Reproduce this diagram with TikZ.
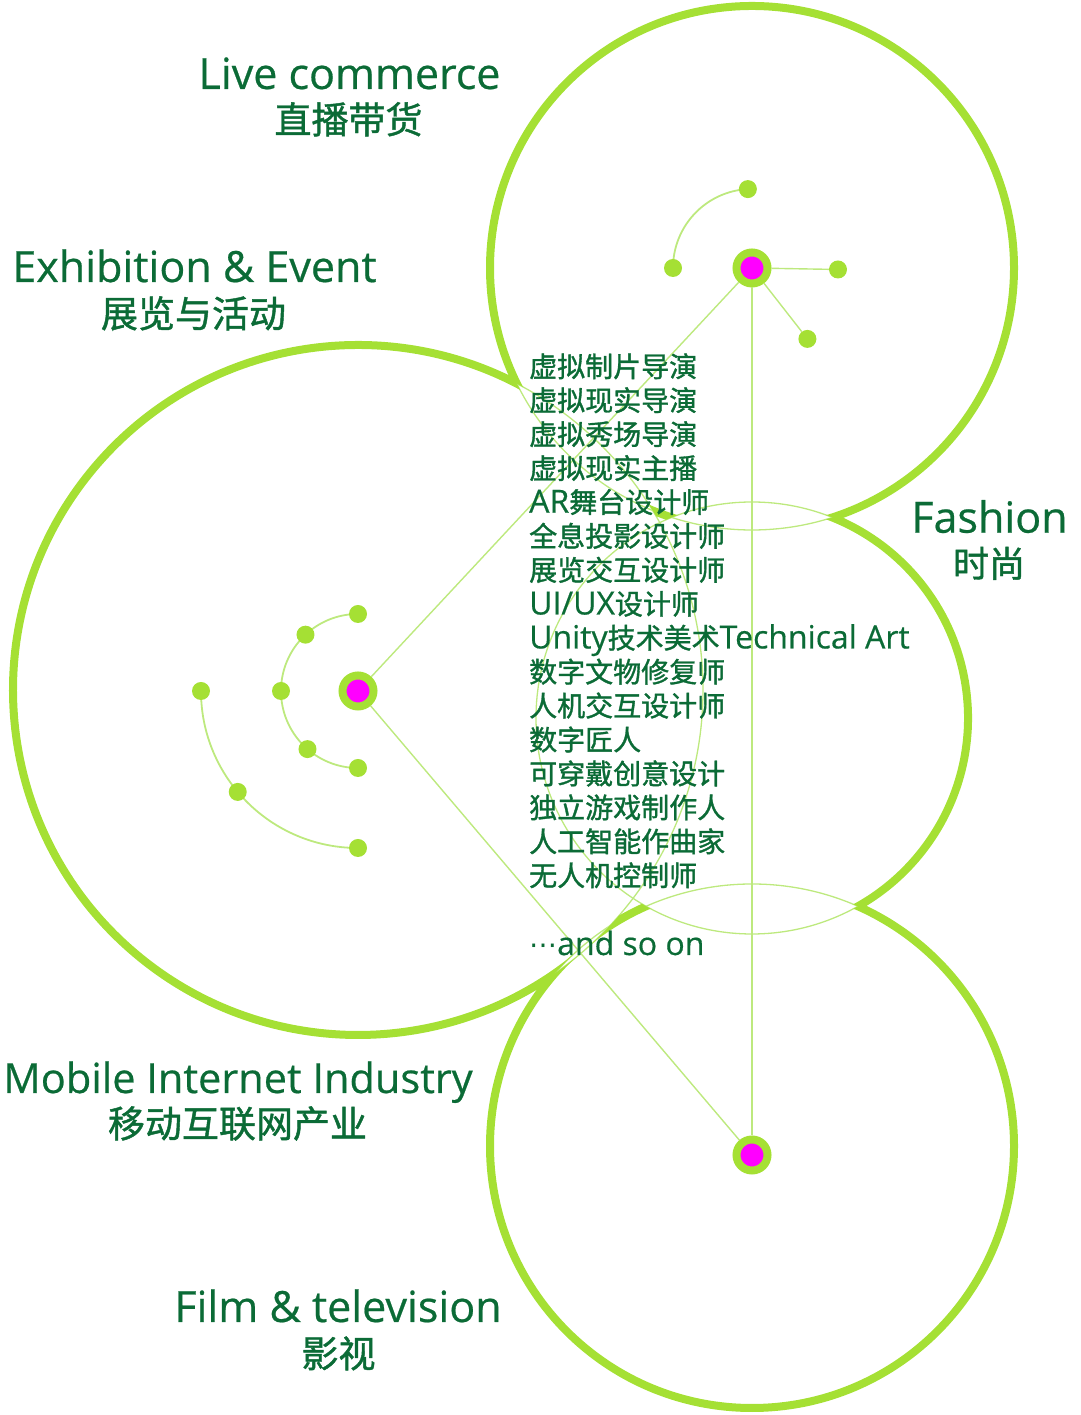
\documentclass[tikz,border=0pt]{standalone}
\usepackage{fontspec}
\setmainfont{Open Sans}[FakeBold=0.5]
\newfontfamily\cjk{Noto Sans CJK SC}[FakeBold=1.2]
\newfontfamily\dejavu{DejaVu Sans}
\usetikzlibrary{calc}
\definecolor{lg}{HTML}{A5E034}
\definecolor{lgthin}{HTML}{BDE97E}
\definecolor{dg}{HTML}{0B6B36}
\definecolor{mg}{HTML}{FF00FF}
\newcommand\zz[1]{{\fontsize{28}{34}\selectfont\cjk #1}}
\begin{document}
\begin{tikzpicture}[x=1pt,y=1pt,
 thinring/.style={draw=lgthin, line width=1.3pt},
 thickring/.style={draw=lg, line width=8pt},
 link/.style={draw=lgthin, line width=1.4pt},
 arcl/.style={draw=lgthin, line width=1.8pt},
 dot/.style={circle, fill=lg, minimum size=18pt, inner sep=0pt},
 hub/.style={circle, draw=lg, line width=8pt, fill=mg, minimum size=31pt, inner sep=0pt},
 title/.style={text=dg, font=\fontsize{43}{48}\selectfont, inner sep=0pt, anchor=base},
 ztitle/.style={text=dg, font=\fontsize{37}{44}\selectfont\cjk, inner sep=0pt, anchor=base},
 item/.style={text=dg, font=\fontsize{32}{34}\selectfont, inner sep=0pt, anchor=base west},
]
\useasboundingbox (0,0) rectangle (1080,1415);
\coordinate (cT) at (752,1147);
\coordinate (cM) at (752,697);
\coordinate (cL) at (358,725);
\coordinate (cB) at (752,269);
% thin full rings
\draw[thinring] (cT) circle[radius=262];
\draw[thinring] (cM) circle[radius=216];
\draw[thinring] (cL) circle[radius=345];
\draw[thinring] (cB) circle[radius=262];
% thick parts outside other circles (clockwise frame + counterclockwise circle = hole)
\begin{scope}
 \clip (-60,-60) -- (-60,1475) -- (1140,1475) -- (1140,-60) -- cycle (cM) circle[radius=216];
 \clip (-60,-60) -- (-60,1475) -- (1140,1475) -- (1140,-60) -- cycle (cL) circle[radius=345];
 \clip (-60,-60) -- (-60,1475) -- (1140,1475) -- (1140,-60) -- cycle (cB) circle[radius=262];
 \draw[thickring] (cT) circle[radius=262];
\end{scope}
\begin{scope}
 \clip (-60,-60) -- (-60,1475) -- (1140,1475) -- (1140,-60) -- cycle (cT) circle[radius=262];
 \clip (-60,-60) -- (-60,1475) -- (1140,1475) -- (1140,-60) -- cycle (cL) circle[radius=345];
 \clip (-60,-60) -- (-60,1475) -- (1140,1475) -- (1140,-60) -- cycle (cB) circle[radius=262];
 \coordinate (mStart) at ([shift={(-80:216)}]cM);
 \draw[thickring] (mStart) arc[start angle=-80, end angle=90, radius=216];
\end{scope}
\begin{scope}
 \clip (-60,-60) -- (-60,1475) -- (1140,1475) -- (1140,-60) -- cycle (cT) circle[radius=262];
 \clip (-60,-60) -- (-60,1475) -- (1140,1475) -- (1140,-60) -- cycle (cM) circle[radius=216];
 \clip (-60,-60) -- (-60,1475) -- (1140,1475) -- (1140,-60) -- cycle (cB) circle[radius=262];
 \coordinate (lStart) at ([shift={(50:345)}]cL);
 \draw[thickring] (lStart) arc[start angle=50, end angle=312, radius=345];
\end{scope}
\begin{scope}
 \clip (-60,-60) -- (-60,1475) -- (1140,1475) -- (1140,-60) -- cycle (cT) circle[radius=262];
 \clip (-60,-60) -- (-60,1475) -- (1140,1475) -- (1140,-60) -- cycle (cM) circle[radius=216];
 \clip (-60,-60) -- (-60,1475) -- (1140,1475) -- (1140,-60) -- cycle (cL) circle[radius=345];
 \draw[thickring] (cB) circle[radius=262];
\end{scope}
% hub positions
\coordinate (pT) at (752,1147);
\coordinate (pL) at (358,724);
\coordinate (pB) at (752,260);
% arcs (drawn first, below the dots)
\coordinate (aTa) at ([shift={(180:79)}]pT);
\coordinate (aLa) at ([shift={(90:77)}]pL);
\coordinate (aLf) at ([shift={(180:157)}]pL);
\draw[arcl] (aTa) arc[start angle=180, end angle=93, radius=79];
\draw[arcl] (aLa) arc[start angle=90, end angle=270, radius=77];
\draw[arcl] (aLf) arc[start angle=180, end angle=270, radius=157];
% dots
\node[dot] (dTa) at ([shift={(180:79)}]pT) {};
\node[dot] (dTb) at ([shift={(93:79)}]pT) {};
\node[dot] (dTc) at ([shift={(-1:86)}]pT) {};
\node[dot] (dTd) at ([shift={(-52:90)}]pT) {};
\node[dot] (dLa) at ([shift={(90:77)}]pL) {};
\node[dot] (dLb) at ([shift={(133:77)}]pL) {};
\node[dot] (dLc) at ([shift={(180:77)}]pL) {};
\node[dot] (dLd) at ([shift={(229:77)}]pL) {};
\node[dot] (dLe) at ([shift={(270:77)}]pL) {};
\node[dot] (dLf) at ([shift={(180:157)}]pL) {};
\node[dot] (dLg) at ([shift={(220:157)}]pL) {};
\node[dot] (dLh) at ([shift={(270:157)}]pL) {};
% hubs
\node[hub] (hT) at (pT) {};
\node[hub] (hL) at (pL) {};
\node[hub] (hB) at (pB) {};
\draw[link] (hT) -- (hL);
\draw[link] (hT) -- (hB);
\draw[link] (hL) -- (hB);
\draw[link] (hT) -- (dTc);
\draw[link] (hT) -- (dTd);
% titles
\node[title] (t1) at (349.5,1326) {Live commerce};
\node[ztitle] (z1) at (348.5,1281.6) {直播带货};
\node[title] (t2) at (194.5,1133) {Exhibition \& Event};
\node[ztitle] (z2) at (193.5,1087.6) {展览与活动};
\node[title] (t3) at (989.5,882.3) {Fashion};
\node[ztitle, font=\fontsize{36}{42}\selectfont\cjk] (z3) at (989,838) {时尚};
\node[title, font=\fontsize{41.5}{48}\selectfont] (t4) at (238,322) {Mobile Internet Industry};
\node[ztitle] (z4) at (237.5,277.6) {移动互联网产业};
\node[title] (t5) at (338,93) {Film \& television};
\node[ztitle] (z5) at (338.5,47.6) {影视};
% list
\foreach \txt [count=\i from 0] in {
 \zz{虚拟制片导演},
 \zz{虚拟现实导演},
 \zz{虚拟秀场导演},
 \zz{虚拟现实主播},
 AR\zz{舞台设计师},
 \zz{全息投影设计师},
 \zz{展览交互设计师},
 UI/UX\zz{设计师},
 Unity\zz{技术美术}Technical Art,
 \zz{数字文物修复师},
 \zz{人机交互设计师},
 \zz{数字匠人},
 \zz{可穿戴创意设计},
 \zz{独立游戏制作人},
 \zz{人工智能作曲家},
 \zz{无人机控制师}}
 {\node[item] (it\i) at (529,{1038-33.93*\i}) {\txt};}
\node[item] (itend) at (529,460) {{\fontsize{28}{34}\selectfont\dejavu ⋯}and so on};
\end{tikzpicture}
\end{document}
